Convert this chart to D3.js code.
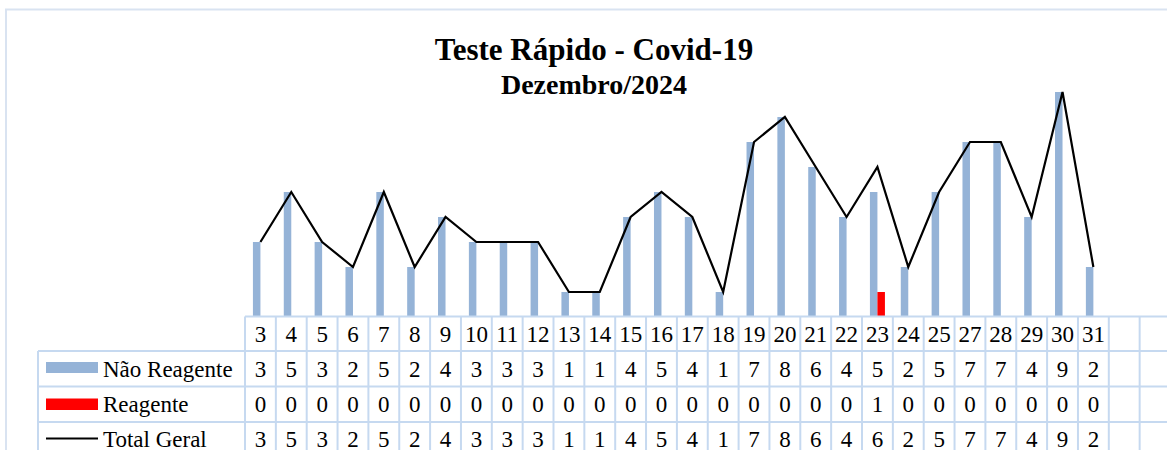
<!DOCTYPE html>
<html>
<head>
<meta charset="utf-8">
<script src="https://cdn.jsdelivr.net/npm/d3@7"></script>
<style>
  body { margin: 0; background: #fff; }
  svg text { font-family: "Liberation Serif", "Times New Roman", serif; fill: #000; }
</style>
</head>
<body>
<div id="chart"></div>
<script>
// dias do mes (26 nao aparece), mais duas colunas vazias no fim
var dias = ['3','4','5','6','7','8','9','10','11','12','13','14','15','16','17','18','19','20','21','22','23','24','25','27','28','29','30','31','',''];
var naoReagente = [3,5,3,2,5,2,4,3,3,3,1,1,4,5,4,1,7,8,6,4,5,2,5,7,7,4,9,2];
var reagente    = [0,0,0,0,0,0,0,0,0,0,0,0,0,0,0,0,0,0,0,0,1,0,0,0,0,0,0,0];
var totalGeral  = [3,5,3,2,5,2,4,3,3,3,1,1,4,5,4,1,7,8,6,4,6,2,5,7,7,4,9,2];
var seriesNomes = ['Não Reagente', 'Reagente', 'Total Geral'];

window.onload = (function () {
    var W = 1167, H = 450;
    var azul = '#95b3d7', vermelho = '#ff0000', grade = '#c6d9f0';
    var svg = d3.select('#chart').append('svg').attr('width', W).attr('height', H);

    // moldura do grafico
    svg.append('rect').attr('x', 6).attr('y', 9.5).attr('width', W + 20).attr('height', H + 20)
        .attr('fill', 'none').attr('stroke', '#d9e3f1').attr('stroke-width', 2);

    // titulo
    svg.append('text').attr('x', 594).attr('y', 59.5).attr('text-anchor', 'middle')
        .style('font-weight', 'bold').style('font-size', '31px').text('Teste Rápido - Covid-19');
    svg.append('text').attr('x', 594).attr('y', 93.5).attr('text-anchor', 'middle')
        .style('font-weight', 'bold').style('font-size', '28px').text('Dezembro/2024');

    var colW = 30.85, x0 = 245;
    var x = d3.scaleBand().domain(d3.range(dias.length)).range([x0, x0 + colW * dias.length]);
    var xs = d3.scaleBand().domain(['nao', 'rea']).range([-7.5, 7.5]);
    var y = d3.scaleLinear().domain([0, 10]).range([317, 67]);
    var cx = function (i) { return x(i) + x.bandwidth() / 2; };

    // barras
    svg.append('g').selectAll('rect').data(naoReagente).enter().append('rect')
        .attr('x', function (d, i) { return cx(i) + xs('nao'); })
        .attr('y', function (d) { return y(d); })
        .attr('width', xs.bandwidth())
        .attr('height', function (d) { return y(0) - y(d); })
        .attr('fill', azul);
    svg.append('g').selectAll('rect').data(reagente).enter().append('rect')
        .attr('x', function (d, i) { return cx(i) + xs('rea'); })
        .attr('y', function (d) { return y(d); })
        .attr('width', xs.bandwidth())
        .attr('height', function (d) { return y(0) - y(d); })
        .attr('fill', vermelho);

    // linha do total
    var linha = d3.line().x(function (d, i) { return cx(i); }).y(function (d) { return y(d); });
    svg.append('path').datum(totalGeral).attr('d', linha)
        .attr('fill', 'none').attr('stroke', '#000').attr('stroke-width', 2.2)
        .attr('stroke-linejoin', 'miter');

    // tabela de dados
    var rows = [316.5, 351, 386.5, 422, 457.5];
    var labelX = 38;
    var xEnd = x0 + colW * dias.length;
    var g = svg.append('g').attr('stroke', grade).attr('stroke-width', 2);
    g.append('line').attr('x1', x0).attr('x2', xEnd).attr('y1', rows[0]).attr('y2', rows[0]);
    rows.slice(1).forEach(function (r) {
        g.append('line').attr('x1', labelX).attr('x2', xEnd).attr('y1', r).attr('y2', r);
    });
    g.append('line').attr('x1', labelX).attr('x2', labelX).attr('y1', rows[1]).attr('y2', rows[4]);
    d3.range(dias.length + 1).forEach(function (k) {
        var xx = x0 + k * colW;
        g.append('line').attr('x1', xx).attr('x2', xx).attr('y1', rows[0]).attr('y2', rows[4]);
    });

    var fs = '23px';
    var baselines = [341.5, 376.5, 411.5, 447];
    svg.append('g').selectAll('text').data(dias).enter().append('text')
        .attr('x', function (d, i) { return cx(i); }).attr('y', baselines[0])
        .attr('text-anchor', 'middle').style('font-size', fs).text(function (d) { return d; });
    [naoReagente, reagente, totalGeral].forEach(function (serie, s) {
        svg.append('g').selectAll('text').data(serie).enter().append('text')
            .attr('x', function (d, i) { return cx(i); }).attr('y', baselines[s + 1])
            .attr('text-anchor', 'middle').style('font-size', fs).text(function (d) { return d; });
        svg.append('text').attr('x', 103).attr('y', baselines[s + 1])
            .style('font-size', fs).text(seriesNomes[s]);
    });

    // chaves da legenda
    svg.append('rect').attr('x', 46).attr('y', 362).attr('width', 52).attr('height', 11).attr('fill', azul);
    svg.append('rect').attr('x', 46).attr('y', 398.5).attr('width', 52).attr('height', 11.5).attr('fill', vermelho);
    svg.append('line').attr('x1', 46).attr('x2', 98).attr('y1', 438.5).attr('y2', 438.5)
        .attr('stroke', '#000').attr('stroke-width', 2.2);
}());
</script>
</body>
</html>
